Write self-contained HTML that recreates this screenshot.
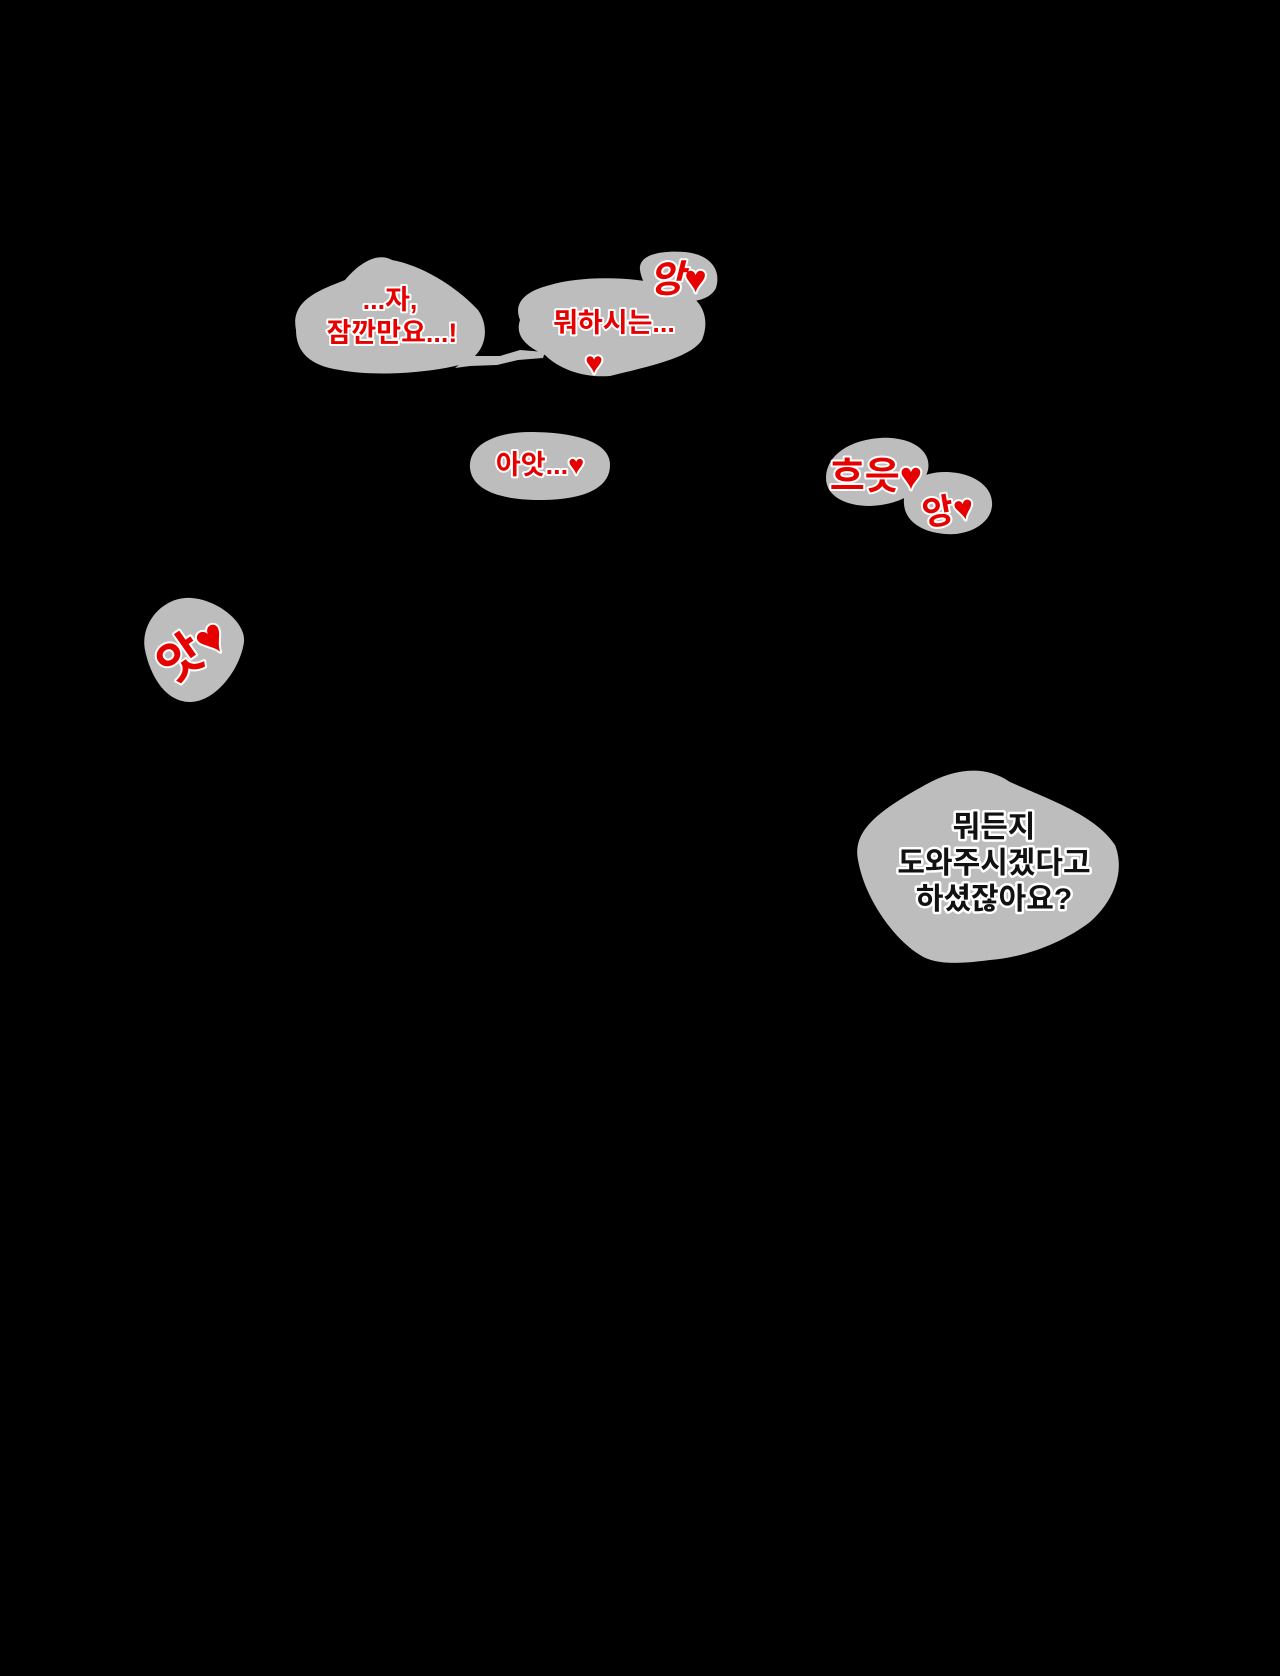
<!DOCTYPE html>
<html><head><meta charset="utf-8"><style>
html,body{margin:0;padding:0;background:#000;}
svg{display:block}
text{font-family:"Liberation Sans","Noto Sans CJK KR","NanumGothic",sans-serif;font-weight:bold;paint-order:stroke;stroke-linejoin:round;text-anchor:middle}
.r{fill:#e60000;stroke:#fff;stroke-width:4}
.k{fill:#111;stroke:#fff;stroke-width:5}
.b{fill:#bdbdbd}
</style></head><body>
<svg width="1280" height="1676" viewBox="0 0 1280 1676">
<rect width="1280" height="1676" fill="#000"/>
<path class="b" d="M296,330 C290,300 320,290 345,280 C360,262 378,252 392,260 C420,265 455,285 478,310 C492,330 485,360 455,366 C420,374 370,376 340,370 C310,366 296,352 296,330Z"/>
<path d="M455,368 L470,356 L500,356 L520,350 L545,352 L543,358 L518,360 L497,365 L470,366 Z" fill="#bdbdbd"/>
<path class="b" d="M520,320 C512,300 530,290 550,285 C580,276 630,276 665,285 C700,292 712,315 702,340 C690,358 650,366 610,376 C585,378 560,370 545,355 C530,348 514,338 520,320Z"/>
<path class="b" d="M640,270 C638,255 660,250 685,252 C708,254 722,268 716,288 C710,300 692,304 672,300 C652,296 642,285 640,270Z"/>
<path class="b" d="M470,468 C468,445 495,432 530,432 C570,432 610,440 610,465 C610,490 580,500 540,500 C500,500 472,490 470,468Z"/>
<path class="b" d="M826,478 C826,455 850,440 880,438 C910,436 932,450 928,470 C922,492 900,505 870,506 C845,506 826,496 826,478Z"/>
<path class="b" d="M904,504 C902,485 920,472 945,472 C972,472 994,486 992,506 C990,526 965,536 945,534 C920,532 905,520 904,504Z"/>
<path class="b" d="M145,650 C140,625 160,600 185,598 C212,596 246,620 244,642 C240,670 215,702 190,702 C165,702 150,675 145,650Z"/>
<path class="b" d="M858,860 C852,830 880,810 925,785 C955,768 985,765 1010,782 C1050,800 1095,815 1115,845 C1125,870 1115,900 1090,922 C1060,945 1020,958 990,960 C960,964 935,965 920,955 C895,940 865,900 858,860Z"/>

<text class="r" x="390" y="309" font-size="27">...자,</text>
<text class="r" x="392" y="342" font-size="27">잠깐만요...!</text>
<text class="r" x="614" y="332" font-size="27">뭐하시는...</text>
<text class="r" x="594" y="373" font-size="30">♥</text>
<text class="r" x="678" y="292" font-size="38" font-style="italic" font-weight="normal">앙♥</text>
<text class="r" x="540" y="474" font-size="27">아앗...♥</text>
<text class="r" x="876" y="489" font-size="38" font-weight="normal">흐읏♥</text>
<text class="r" x="948" y="522" font-size="34" font-weight="normal" transform="rotate(-10 948 510)">앙♥</text>
<text class="r" x="192" y="667" font-size="48" font-weight="normal" transform="rotate(-35 192 650)">앗♥</text>
<text class="k" x="994" y="837" font-size="30">뭐든지</text>
<text class="k" x="994" y="873" font-size="30">도와주시겠다고</text>
<text class="k" x="994" y="909" font-size="30">하셨잖아요?</text>
</svg>
</body></html>
